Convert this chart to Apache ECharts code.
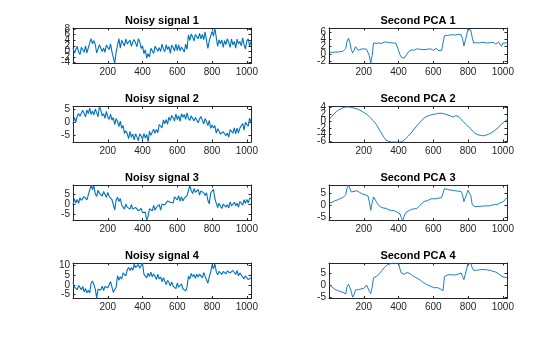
<!DOCTYPE html>
<html>
<head>
<meta charset="utf-8">
<script src="https://cdn.jsdelivr.net/npm/echarts@6/dist/echarts.min.js"></script>
<style>
  html, body { margin: 0; padding: 0; background: #ffffff; }
  #c { width: 560px; height: 337px; }
</style>
</head>
<body>
<div id="c"></div>
<script>
// Samples are stored every STEP points (x = 0 .. 1024)
const STEP = 8;

const leftTitles  = ['Noisy signal 1', 'Noisy signal 2', 'Noisy signal 3', 'Noisy signal 4'];
const rightTitles = ['Second PCA 1', 'Second PCA 2', 'Second PCA 3', 'Second PCA 4'];

const xTicks = [200, 400, 600, 800, 1000];

// y tick labels per panel
const noisyTicks1 = [-4, -2, 0, 2, 4, 6, 8];
const noisyTicks2 = [-5, 0, 5];
const noisyTicks3 = [-5, 0, 5];
const noisyTicks4 = [-5, 0, 5, 10];
const pcaTicks1 = [-2, 0, 2, 4, 6];
const pcaTicks2 = [-6, -4, -2, 0, 2, 4];
const pcaTicks3 = [-5, 0, 5];
const pcaTicks4 = [-5, 0, 5];

// y limits per panel
const noisyRange1 = [-4.3, 8.4];
const noisyRange2 = [-7.7, 6.1];
const noisyRange3 = [-8.2, 9.9];
const noisyRange4 = [-7.2, 11.4];
const pcaRange1 = [-2.65, 7.15];
const pcaRange2 = [-6.1, 4.15];
const pcaRange3 = [-6.45, 8.65];
const pcaRange4 = [-5.55, 9.55];

const noisy1 = [1.4,-0.6,0.7,1.8,-0.1,-1.1,1.5,0.6,-0.3,2.0,-0.5,1.3,1.2,4.6,2.8,3.9,
2.5,-0.5,-0.2,2.4,2.5,0.0,1.3,-0.3,2.3,2.0,0.7,2.7,-0.1,0.3,-4.2,-0.3,
2.3,4.6,1.2,4.0,3.3,2.0,4.5,2.7,2.3,4.1,1.8,3.4,4.3,3.0,1.7,4.6,
3.5,1.1,2.0,-0.8,0.6,-2.4,-0.8,-2.0,1.1,0.3,-0.7,1.9,2.6,0.1,1.4,0.0,
2.6,0.9,-0.1,2.4,0.7,1.8,-0.7,2.3,1.4,0.2,2.6,0.3,2.4,0.2,1.6,0.8,
-0.2,2.6,0.8,5.9,4.0,6.3,5.2,3.7,6.1,5.7,4.5,6.5,4.5,6.1,4.2,7.0,
3.9,1.1,3.9,4.4,7.2,5.5,8.3,5.1,1.8,4.2,2.7,4.1,1.5,3.9,2.5,4.6,
3.2,1.5,4.4,2.4,3.6,1.2,4.4,2.7,3.6,2.0,4.9,2.4,0.9,3.7,4.5,2.0,3.5];

const pca1 = [0.6,0.5,0.4,0.6,0.5,0.3,0.5,0.4,0.6,0.5,0.7,0.8,1.5,3.5,4.3,3.2,
1.2,0.3,1.0,2.0,1.5,1.0,1.2,1.3,1.1,1.4,1.2,1.3,1.0,-0.5,-2.6,-0.5,
3.0,3.3,2.9,3.1,3.0,3.2,2.9,3.1,3.3,3.0,3.2,2.8,3.1,3.3,3.0,3.2,
3.0,2.6,1.0,-0.2,-0.9,-1.3,-1.2,-0.7,-0.1,0.5,0.9,1.1,1.3,1.0,1.2,1.4,
1.1,1.3,1.0,1.2,1.5,1.2,1.0,1.3,1.1,1.4,1.2,1.0,1.3,1.5,1.1,0.9,
1.2,1.0,1.3,5.0,5.3,5.1,5.4,5.2,5.0,5.3,5.5,5.2,5.1,5.4,5.6,5.3,
4.2,2.2,2.6,5.2,7.0,7.1,6.5,4.5,3.0,2.7,3.1,3.3,3.0,2.9,3.2,3.4,
3.1,2.8,3.0,3.3,3.1,2.9,3.2,3.0,2.7,3.1,3.3,2.9,2.1,3.0,3.2,3.0,3.1];

const noisy2 = [-0.7,1.9,-0.1,2.4,3.4,2.3,1.6,4.6,3.9,2.1,4.8,3.3,5.5,3.0,4.4,2.8,
5.1,3.7,2.1,6.0,4.8,2.4,3.3,1.5,4.2,2.0,1.1,3.1,0.8,1.8,-0.9,1.4,
0.3,-1.7,0.4,-2.4,-1.3,-4.4,-3.3,-4.5,-6.4,-3.6,-5.9,-4.6,-6.9,-4.5,-5.8,-7.2,
-4.5,-5.3,-6.6,-4.4,-6.2,-4.8,-7.6,-3.5,-5.1,-5.5,-2.7,-4.3,-2.8,-4.1,-0.9,-0.9,
-2.2,0.9,-0.6,1.1,-0.8,2.0,0.6,2.6,1.7,0.4,3.2,1.0,2.5,0.3,3.3,1.9,
3.0,1.1,3.6,1.5,0.7,2.5,3.0,0.5,1.8,1.9,-0.2,1.3,2.2,0.7,-0.6,1.4,
0.2,-1.3,0.7,-2.4,-1.1,-2.3,-1.3,-4.3,-2.5,-2.3,-4.6,-5.2,-3.7,-3.2,-5.2,-4.2,
-5.8,-2.9,-3.4,-4.3,-2.2,-4.5,-2.3,-4.1,-2.3,-2.9,-0.5,-3.1,-0.1,-0.3,-1.5,1.6,-0.1];

const pca2 = [0.3,0.8,1.3,1.8,2.2,2.6,2.9,3.2,3.4,3.6,3.8,3.9,4.0,4.1,4.0,4.1,
3.9,3.9,3.7,3.6,3.5,3.3,3.1,2.9,2.7,2.4,2.2,1.9,1.6,1.2,0.8,0.4,
0.0,-0.5,-1.0,-1.7,-2.4,-3.1,-3.8,-4.4,-5.0,-5.6,-5.8,-5.9,-6.0,-6.1,-6.0,-6.1,
-6.0,-6.1,-6.0,-6.1,-6.0,-5.9,-5.6,-5.2,-4.8,-4.4,-4.0,-3.5,-3.0,-2.5,-2.0,-1.5,
-1.0,-0.6,-0.2,0.3,0.7,1.0,1.3,1.4,1.6,1.7,1.8,1.9,2.0,2.0,2.1,2.2,
2.1,2.2,2.0,2.0,1.9,1.8,1.7,1.5,1.4,1.1,0.9,1.5,1.0,1.3,0.8,0.4,
0.0,-0.4,-0.8,-1.2,-1.6,-2.0,-2.4,-2.8,-3.2,-3.6,-3.8,-4.0,-4.1,-4.2,-4.2,-4.3,
-4.2,-4.1,-4.0,-3.8,-3.6,-3.4,-3.1,-2.8,-2.5,-2.2,-1.8,-1.4,-1.0,-0.6,-0.3,0.0,0.3];

const noisy3 = [-0.3,2.9,0.7,2.5,0.6,3.4,2.1,1.1,4.0,3.5,2.3,4.9,3.9,9.8,7.6,9.5,
5.4,4.1,7.2,5.6,6.4,4.3,6.6,5.6,3.6,6.1,4.1,5.1,2.5,2.5,-2.8,2.2,
3.7,1.5,3.0,-0.3,0.3,-2.4,0.2,-1.4,-0.5,-2.4,-0.1,-2.4,-3.0,-1.5,-1.1,-3.3,
-2.3,-2.1,-4.2,-3.3,-4.0,-8.0,-6.2,-2.2,-2.5,-3.3,-0.5,-3.0,-1.4,-1.8,-0.1,-2.9,
0.1,1.1,-0.3,-0.3,1.8,2.8,1.1,2.1,0.8,3.9,3.1,2.3,4.4,1.7,4.0,1.8,
3.2,2.6,4.5,5.4,9.6,7.1,5.5,8.1,6.2,5.4,7.6,4.8,6.9,7.2,5.9,4.6,
5.9,2.1,0.3,5.8,5.8,7.7,2.9,0.7,-1.6,0.6,-0.9,-2.1,0.2,0.9,-1.4,-0.1,
-1.8,1.3,-0.8,-1.4,1.1,-0.7,0.6,-1.4,1.5,0.7,-0.4,2.4,0.5,2.6,0.7,3.1,3.2];

const pca3 = [1.1,1.3,1.2,1.6,1.9,2.2,2.3,2.6,2.9,3.1,3.3,3.6,4.5,7.5,8.6,7.8,
5.7,5.2,5.9,6.4,6.2,5.9,5.5,5.0,4.8,4.6,4.5,4.3,4.0,1.5,-2.1,1.0,
3.6,2.8,1.6,0.6,-0.2,-0.7,-1.0,-1.1,-1.4,-1.3,-1.7,-1.9,-1.8,-2.2,-2.4,-2.3,
-2.7,-2.9,-3.1,-3.6,-5.2,-6.4,-4.8,-3.2,-2.7,-2.4,-2.0,-1.8,-1.9,-1.5,-1.2,-1.4,
-0.6,-0.2,0.5,0.9,1.4,1.8,2.1,2.0,2.4,2.7,2.5,2.8,3.0,2.8,3.2,3.1,
3.0,3.3,3.2,7.1,7.0,6.8,6.7,6.5,6.6,6.4,6.5,6.2,6.3,6.0,6.2,5.9,
4.5,1.6,1.8,4.8,6.4,6.2,4.0,0.3,-0.3,-0.6,-0.7,-0.5,-0.6,-0.4,-0.5,-0.3,
-0.4,-0.2,-0.4,-0.3,-0.1,0.1,0.0,0.3,0.5,0.4,0.8,1.0,1.2,1.5,2.0,2.6,3.3];

const noisy4 = [1.3,-1.2,-0.5,-2.6,-0.3,-1.3,-2.6,-0.9,-3.7,-2.0,-4.2,-2.9,-4.3,0.8,2.0,0.1,
-2.2,-7.0,-2.4,-2.3,-2.7,-0.7,-3.0,-0.9,-0.2,-1.6,-2.2,1.6,1.0,-4.0,-2.5,-1.4,
4.7,2.4,4.2,3.0,6.2,5.5,4.7,7.8,9.0,7.4,9.0,7.6,10.7,9.0,8.4,10.7,
8.6,10.1,11.2,5.6,5.6,3.6,6.1,4.3,6.6,4.2,5.6,4.5,2.8,5.5,3.0,4.1,
1.6,3.7,1.9,0.1,2.3,1.2,-0.5,1.5,-0.7,0.3,-2.0,0.9,-1.3,-2.2,0.4,-2.1,
-1.3,-3.2,-1.1,4.4,3.0,5.9,4.3,5.4,3.4,5.5,4.0,5.6,4.7,3.6,6.4,4.4,
4.3,0.8,4.2,6.7,10.4,8.4,11.0,7.0,5.2,7.0,7.8,5.4,7.0,7.5,5.7,7.2,
7.9,6.2,5.2,7.5,6.6,5.4,7.5,4.7,6.2,5.1,6.1,3.1,4.7,5.0,2.7,2.2,3.7];

const pca4 = [0.3,-0.2,-0.6,-1.0,-1.5,-1.9,-2.1,-2.3,-2.6,-2.8,-2.9,-3.1,-3.6,-0.5,0.5,-0.8,
-2.5,-5.0,-4.0,-1.9,-1.7,-1.8,-1.6,-1.5,-1.4,-1.3,-0.9,0.2,0.5,-2.5,-3.5,-0.8,
3.2,3.5,3.8,4.3,5.0,5.7,6.3,7.0,7.7,8.3,8.8,9.0,9.2,9.4,9.5,9.5,
9.4,9.5,9.5,7.0,5.3,4.8,4.7,5.0,5.5,5.5,5.1,4.6,4.2,3.9,3.5,3.2,
2.9,2.5,2.1,1.6,1.2,0.8,0.5,0.2,-0.1,-0.4,-0.6,-0.8,-1.0,-1.1,-0.9,-1.3,
-1.5,-1.6,-2.2,3.8,4.2,4.4,4.7,4.6,4.9,4.5,4.7,4.4,4.6,4.9,5.0,5.3,
3.8,2.5,3.0,7.0,9.5,9.5,9.4,7.5,6.4,6.3,6.5,6.4,6.6,6.7,6.8,6.9,
6.7,6.8,6.6,6.5,6.4,6.3,6.0,5.9,5.7,5.4,5.0,4.6,4.0,3.7,3.5,3.4,3.3];

// Subplot placement (pixels)
const colLefts = [73, 329];
const rowTops = [28, 106.5, 185, 263];
const plotW = 178;
const plotH = 35.5;

const AX = '#262626';
const LINE = '#0072BD';
const FONT = '"Liberation Sans", Arial, Helvetica, sans-serif';

const panels = [
  { name: leftTitles[0],  values: noisy1, range: noisyRange1, ticks: noisyTicks1, col: 0, row: 0, noisy: true },
  { name: rightTitles[0], values: pca1,   range: pcaRange1,   ticks: pcaTicks1,   col: 1, row: 0 },
  { name: leftTitles[1],  values: noisy2, range: noisyRange2, ticks: noisyTicks2, col: 0, row: 1, noisy: true },
  { name: rightTitles[1], values: pca2,   range: pcaRange2,   ticks: pcaTicks2,   col: 1, row: 1 },
  { name: leftTitles[2],  values: noisy3, range: noisyRange3, ticks: noisyTicks3, col: 0, row: 2, noisy: true },
  { name: rightTitles[2], values: pca3,   range: pcaRange3,   ticks: pcaTicks3,   col: 1, row: 2 },
  { name: leftTitles[3],  values: noisy4, range: noisyRange4, ticks: noisyTicks4, col: 0, row: 3, noisy: true },
  { name: rightTitles[3], values: pca4,   range: pcaRange4,   ticks: pcaTicks4,   col: 1, row: 3 }
];

const grid = [], xAxis = [], yAxis = [], series = [], title = [];

const plain = v => String(v);

panels.forEach((p, k) => {
  const left = colLefts[p.col];
  const top = rowTops[p.row];
  grid.push({ left: left, top: top, width: plotW, height: plotH });

  const axisLine = { show: true, onZero: false, lineStyle: { color: AX, width: 1 } };
  const tickStyle = { color: AX, width: 1 };
  const labelStyle = { color: AX, fontSize: 10, fontFamily: FONT, formatter: plain };

  // bottom and top x axes (box with inward ticks)
  xAxis.push({
    gridIndex: k, type: 'value', min: 0, max: 1024, position: 'bottom',
    axisLine: axisLine,
    axisTick: { show: true, inside: true, length: 2.5, lineStyle: tickStyle, customValues: xTicks },
    axisLabel: Object.assign({ margin: 4, customValues: xTicks }, labelStyle),
    splitLine: { show: false }
  });
  xAxis.push({
    gridIndex: k, type: 'value', min: 0, max: 1024, position: 'top',
    axisLine: axisLine,
    axisTick: { show: true, inside: true, length: 2.5, lineStyle: tickStyle, customValues: xTicks },
    axisLabel: { show: false },
    splitLine: { show: false }
  });

  // left and right y axes (lines and ticks only)
  const seriesY = yAxis.length;
  yAxis.push({
    gridIndex: k, type: 'value', min: p.range[0], max: p.range[1], position: 'left',
    axisLine: axisLine,
    axisTick: { show: true, inside: true, length: 2.5, lineStyle: tickStyle, customValues: p.ticks },
    axisLabel: { show: false },
    splitLine: { show: false }
  });
  yAxis.push({
    gridIndex: k, type: 'value', min: p.range[0], max: p.range[1], position: 'right',
    axisLine: axisLine,
    axisTick: { show: true, inside: true, length: 2.5, lineStyle: tickStyle, customValues: p.ticks },
    axisLabel: { show: false },
    splitLine: { show: false }
  });
  // the y labels sit tightly packed, so each one gets its own label-only
  // axis and none of them is thinned out
  p.ticks.forEach(t => {
    yAxis.push({
      gridIndex: k, type: 'value', min: p.range[0], max: p.range[1], position: 'left', offset: 0,
      axisLine: { show: false },
      axisTick: { show: false },
      axisLabel: Object.assign({ margin: 3, customValues: [t], showMinLabel: true, showMaxLabel: true }, labelStyle),
      splitLine: { show: false }
    });
  });

  series.push({
    type: 'line',
    xAxisIndex: 2 * k,
    yAxisIndex: seriesY,
    data: p.values.map((v, i) => [i * STEP, v]),
    symbol: 'none',
    showSymbol: false,
    clip: true,
    lineStyle: { color: LINE, width: p.noisy ? 1.1 : 0.9 },
    emphasis: { disabled: true }
  });

  title.push({
    text: p.name,
    left: left + plotW / 2,
    top: top - 13,
    textAlign: 'center',
    padding: 0,
    textStyle: { color: '#000000', fontSize: 11, fontWeight: 'bold', fontFamily: FONT }
  });
});

const chart = echarts.init(document.getElementById('c'), null, { renderer: 'canvas', width: 560, height: 337 });
chart.setOption({
  animation: false,
  backgroundColor: '#ffffff',
  title: title,
  grid: grid,
  xAxis: xAxis,
  yAxis: yAxis,
  series: series
});
</script>
</body>
</html>
